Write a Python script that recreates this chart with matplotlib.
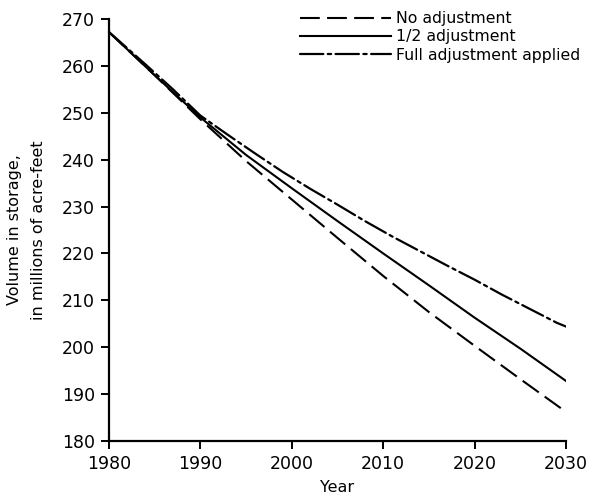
import matplotlib
matplotlib.use('Agg')
from matplotlib import pyplot as plt

# values (millions of acre-feet)
years_5 = [1980, 1985, 1990, 1995, 2000, 2005, 2010, 2015, 2020, 2025, 2030]
no_adjustment = [267.2, 258.0, 248.6, 239.7, 231.5, 223.3, 215.2, 207.5, 200.3, 193.2, 186.2]
half_adjustment = [267.2, 258.0, 249.0, 241.0, 233.9, 226.9, 220.0, 213.2, 206.3, 199.7, 192.8]

years_full = [1980, 1981, 1984, 1987, 1990, 1993, 1996, 1999, 2002, 2005,
              2008, 2011, 2014, 2017, 2020, 2023, 2026, 2029, 2030]
full_adjustment = [267.2, 265.5, 260.3, 255.0, 249.4, 245.3, 241.3, 237.4, 233.8, 230.4,
                   226.9, 223.6, 220.5, 217.4, 214.4, 211.2, 208.2, 205.2, 204.4]

labels = ['No adjustment', '1/2 adjustment', 'Full adjustment applied']
x_ticks = [1980, 1990, 2000, 2010, 2020, 2030]
y_ticks = list(range(180, 271, 10))

plt.rcParams['font.family'] = ['DejaVu Sans']

fig = plt.figure(figsize=(5.91, 4.98), dpi=100)
ax = fig.add_axes([0.1844, 0.1145, 0.7733, 0.8474])

ax.plot(years_5, no_adjustment, color='black', lw=1.5,
        linestyle=(0, (9.5, 3.5)), label=labels[0])
ax.plot(years_5, half_adjustment, color='black', lw=1.5,
        linestyle='-', label=labels[1])
ax.plot(years_full, full_adjustment, color='black', lw=1.6,
        linestyle=(0, (10.5, 2.0, 1.5, 2.0)), dash_capstyle='round',
        label=labels[2])

ax.set_xlim(1980, 2030)
ax.set_ylim(180, 270)
ax.set_xticks(x_ticks)
ax.set_yticks(y_ticks)

for side in ['top', 'right']:
    ax.spines[side].set_visible(False)
for side in ['left', 'bottom']:
    ax.spines[side].set_linewidth(1.6)

ax.tick_params(direction='out', length=6, width=1.4, labelsize=12.5, pad=4)

ax.set_xlabel('Year', fontsize=11.5, labelpad=5)
ax.set_ylabel('Volume in storage,\nin millions of acre-feet', fontsize=11.5,
              linespacing=1.75)
ax.yaxis.set_label_coords(-0.137, 0.5)

ax.legend(loc='upper left', bbox_to_anchor=(300 / 591, 1 - 11 / 498),
          bbox_transform=fig.transFigure, frameon=False, fontsize=11.3,
          handlelength=5.8, handletextpad=0.3, labelspacing=0.22,
          borderpad=0, borderaxespad=0)

fig.savefig('out.png', dpi=100)
